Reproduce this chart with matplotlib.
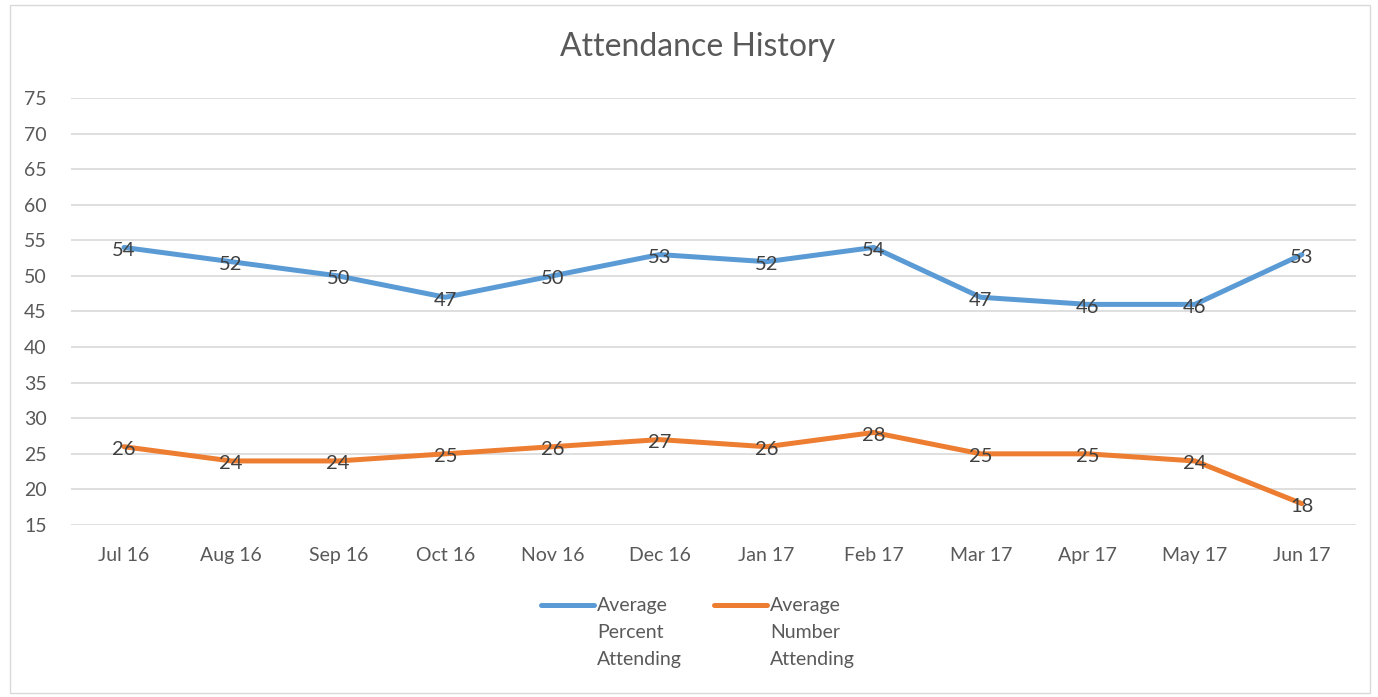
import matplotlib.pyplot as plt
from matplotlib.lines import Line2D
from matplotlib.patches import Rectangle

plt.rcParams['font.family'] = ['Lato', 'DejaVu Sans']

months = ['Jul 16', 'Aug 16', 'Sep 16', 'Oct 16', 'Nov 16', 'Dec 16',
          'Jan 17', 'Feb 17', 'Mar 17', 'Apr 17', 'May 17', 'Jun 17']
pct_attending = [54, 52, 50, 47, 50, 53, 52, 54, 47, 46, 46, 53]
num_attending = [26, 24, 24, 25, 26, 27, 26, 28, 25, 25, 24, 18]

blue = '#5B9BD5'
orange = '#ED7D31'
label_col = '#404040'
tick_col = '#595959'

W, H = 1378, 697
fig = plt.figure(figsize=(W / 100, H / 100), dpi=100)
ax = fig.add_axes([70.5 / W, 1 - 525 / H, (1355.5 - 70.5) / W, (525 - 98) / H])

x = range(len(months))
ax.plot(x, pct_attending, color=blue, lw=3.6, solid_capstyle='round', zorder=3)
ax.plot(x, num_attending, color=orange, lw=3.6, solid_capstyle='round', zorder=3)

for i in x:
    ax.annotate(str(pct_attending[i]), (i, pct_attending[i]), xytext=(0, -2),
                textcoords='offset points', ha='center', va='center',
                fontsize=14.5, color=label_col, zorder=4)
    ax.annotate(str(num_attending[i]), (i, num_attending[i]), xytext=(0, -2),
                textcoords='offset points', ha='center', va='center',
                fontsize=14.5, color=label_col, zorder=4)

ax.set_xlim(-0.5, len(months) - 0.5)
ax.set_ylim(15, 75)
ax.set_yticks(range(15, 76, 5))
ax.set_xticks(list(x))
ax.set_xticklabels(months)
ax.grid(axis='y', color='#D9D9D9', lw=1.2)
ax.set_axisbelow(True)
for s in ax.spines.values():
    s.set_visible(False)
ax.tick_params(length=0, labelsize=14, labelcolor=tick_col)
ax.tick_params(axis='y', pad=17)
ax.tick_params(axis='x', pad=16)

fig.text(698 / W, 1 - 47 / H, 'Attendance History', ha='center', va='center',
         fontsize=23, color=tick_col)

# legend drawn by hand to keep the wrapped labels
def legend_item(x0, color, label):
    fig.add_artist(Line2D([x0 / W, (x0 + 53) / W], [1 - 605 / H, 1 - 605 / H],
                          color=color, lw=3.6, solid_capstyle='round',
                          transform=fig.transFigure))
    fig.text((x0 + 56) / W, 1 - 597 / H, label, ha='left', va='top',
             fontsize=14, color=tick_col, linespacing=1.72)

legend_item(541, blue, 'Average\nPercent\nAttending')
legend_item(714, orange, 'Average\nNumber\nAttending')

fig.add_artist(Rectangle((10 / W, 4 / H), (1370 - 10) / W, (692 - 4) / H,
                         transform=fig.transFigure, fill=False,
                         edgecolor='#D9D9D9', lw=1))

fig.savefig('out.png', dpi=100)
